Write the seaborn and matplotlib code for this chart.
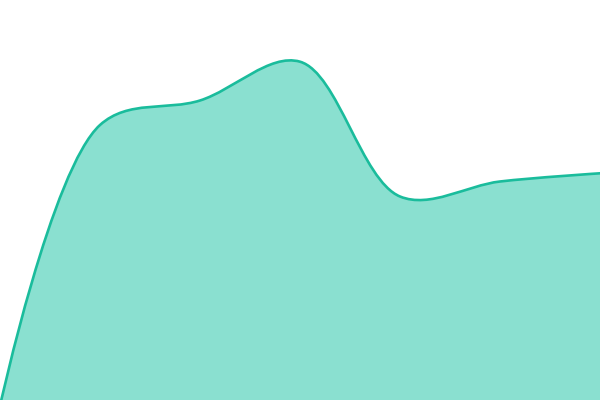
import numpy as np
import matplotlib
import matplotlib.pyplot as plt
import seaborn as sns
from matplotlib.path import Path
from matplotlib.patches import PathPatch

matplotlib.use('Agg')

# points of the area
x_pos = [0, 100, 200, 300, 400, 500, 600]
values = [-6, 275, 299.5, 338.3, 203.5, 218.5, 226.7]

line_color = '#1abc9c'
fill_color = '#8ae0d0'


def catmull_rom_path(xs, ys, alpha=0.5, close_to=None):
    # centripetal Catmull-Rom, written as cubic Bezier pieces
    pts = np.column_stack([xs, ys]).astype(float)
    n = len(pts)
    verts = [tuple(pts[0])]
    codes = [Path.MOVETO]
    for i in range(n - 1):
        p1, p2 = pts[i], pts[i + 1]
        l12 = np.linalg.norm(p2 - p1)
        l12_a, l12_2a = l12 ** alpha, l12 ** (2 * alpha)
        c1 = p1.copy()
        if i > 0:
            p0 = pts[i - 1]
            l01 = np.linalg.norm(p1 - p0)
            l01_a, l01_2a = l01 ** alpha, l01 ** (2 * alpha)
            a = 2 * l01_2a + 3 * l01_a * l12_a + l12_2a
            nn = 3 * l01_a * (l01_a + l12_a)
            c1 = (p1 * a - p0 * l12_2a + p2 * l01_2a) / nn
        c2 = p2.copy()
        if i < n - 2:
            p3 = pts[i + 2]
            l23 = np.linalg.norm(p3 - p2)
            l23_a, l23_2a = l23 ** alpha, l23 ** (2 * alpha)
            b = 2 * l23_2a + 3 * l23_a * l12_a + l12_2a
            m = 3 * l23_a * (l23_a + l12_a)
            c2 = (p2 * b + p1 * l23_2a - p3 * l12_2a) / m
        verts += [tuple(c1), tuple(c2), tuple(p2)]
        codes += [Path.CURVE4] * 3
    if close_to is not None:
        verts += [(xs[-1], close_to), (xs[0], close_to), (xs[0], ys[0])]
        codes += [Path.LINETO, Path.LINETO, Path.CLOSEPOLY]
    return Path(verts, codes)


sns.set_theme(style='white')
fig = plt.figure(figsize=(6, 4), dpi=100)
ax = fig.add_axes([0, 0, 1, 1])

ax.add_patch(PathPatch(catmull_rom_path(x_pos, values, close_to=-20),
                       facecolor=fill_color, edgecolor='none'))
ax.add_patch(PathPatch(catmull_rom_path(x_pos, values),
                       facecolor='none', edgecolor=line_color, linewidth=1.9,
                       capstyle='round', joinstyle='round'))

ax.set_xlim(0, 600)
ax.set_ylim(0, 400)
ax.set_axis_off()
sns.despine(ax=ax, left=True, bottom=True)

plt.savefig('out.png', dpi=100)
plt.close()
